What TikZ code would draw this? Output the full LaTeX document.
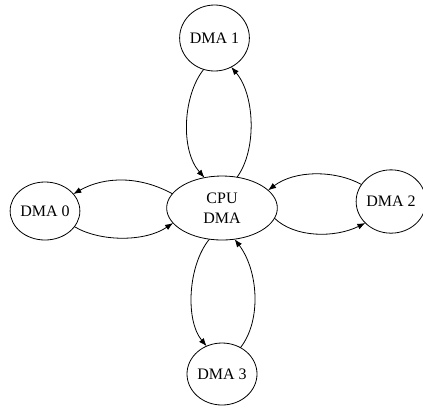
\documentclass[tikz,border=0pt]{standalone}
\usepackage{fontspec}
\setmainfont{Liberation Serif}
\usetikzlibrary{shapes.geometric,arrows.meta}
\begin{document}
\begin{tikzpicture}[x=0.75pt,y=-0.75pt,
  unit/.style={draw,ellipse,line width=0.6pt,inner sep=0pt,outer sep=0pt,
    font=\fontsize{12}{15}\selectfont,align=center},
  link/.style={line width=0.6pt,-{Latex[length=6pt,width=4.5pt]}}]
\useasboundingbox (0,0) rectangle (423,408);
\node[unit,minimum width=49pt,minimum height=49.5pt] (d1) at (214.5,38) {DMA 1};
\node[unit,minimum width=49.5pt,minimum height=43.5pt] (d0) at (45,211) {DMA 0};
\node[unit,minimum width=49.5pt,minimum height=47.5pt] (d2) at (391,201.5) {DMA 2};
\node[unit,minimum width=52.5pt,minimum height=46.5pt] (d3) at (222,374) {DMA 3};
\node[unit,minimum width=83pt,minimum height=48pt] (cpu) at (222,208) {CPU\\DMA};
% DMA 1
\draw[link] (d1.251) .. controls (183,95) and (180,150) .. (cpu.120);
\draw[link] (cpu.64) .. controls (257,150) and (255,95) .. (d1.300);
% DMA 0
\draw[link] (cpu.164) .. controls (140,176) and (105,176) .. (d0.31);
\draw[link] (d0.-28) .. controls (100,242) and (145,242) .. (cpu.197);
% DMA 2
\draw[link] (d2.150) .. controls (335,170) and (295,170) .. (cpu.21);
\draw[link] (cpu.-11) .. controls (295,238) and (335,238) .. (d2.220);
% DMA 3
\draw[link] (cpu.248) .. controls (188,265) and (185,320) .. (d3.119);
\draw[link] (d3.55) .. controls (262,320) and (258,270) .. (cpu.292);
\end{tikzpicture}
\end{document}
